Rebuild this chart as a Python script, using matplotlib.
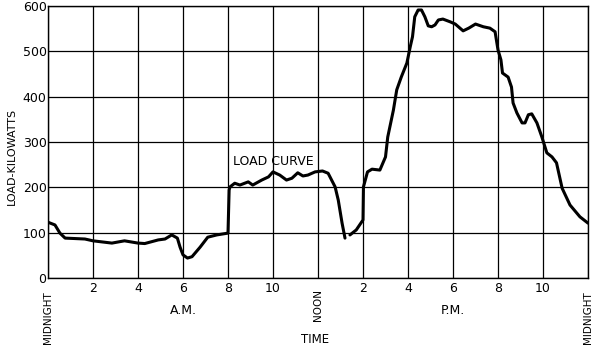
import numpy as np
import matplotlib
matplotlib.use("Agg")
import matplotlib.pyplot as plt

# Load curve (hours after midnight, kilowatts); NaN marks the small break in the trace
hours = [0.0, 0.31, 0.53, 0.76, 1.64, 2.0, 2.84, 3.4, 4.0, 4.3, 4.9, 5.2, 5.5, 5.75, 5.87, 6.0,
         6.2, 6.4, 6.76, 7.1, 7.5, 8.0, 8.05, 8.09, 8.3, 8.53, 8.9, 9.1, 9.5, 9.8, 10.0, 10.3,
         10.6, 10.84, 11.1, 11.33, 11.55, 11.87, 12.2, 12.45, 12.76, 12.9, 13.07, 13.2, 13.3,
         13.42, 13.7, 14.0, 14.02, 14.2, 14.4, 14.75, 15.0, 15.1, 15.35, 15.5, 15.7, 15.95,
         16.1, 16.2, 16.3, 16.45, 16.6, 16.75, 16.9, 17.05, 17.2, 17.35, 17.55, 17.87, 18.1,
         18.45, 18.7, 19.0, 19.35, 19.64, 19.87, 20.0, 20.13, 20.2, 20.45, 20.6, 20.67, 20.84,
         21.07, 21.2, 21.35, 21.5, 21.73, 21.95, 22.17, 22.4, 22.6, 22.85, 23.2, 23.64, 24.0]
load_kw = [123, 117, 99, 88, 86, 82, 77, 82, 77, 76, 84, 86, 95, 88, 68, 51,
           44, 47, 68, 90, 95, 99, 194, 201, 209, 205, 212, 205, 216, 223, 234, 227,
           216, 220, 232, 225, 227, 234, 236, 231, 201, 172, 121, 88, np.nan,
           95, 106, 128, 201, 234, 240, 238, 267, 311, 370, 415, 443, 474,
           510, 532, 576, 591, 591, 576, 556, 554, 558, 569, 571, 565, 560,
           545, 551, 560, 554, 551, 543, 503, 481, 452, 443, 421, 386, 364,
           342, 342, 360, 362, 342, 311, 276, 267, 254, 198, 161, 135, 121]

x_ticks = [2, 4, 6, 8, 10, 14, 16, 18, 20, 22]
x_tick_labels = ["2", "4", "6", "8", "10", "2", "4", "6", "8", "10"]
x_grid = [0, 2, 4, 6, 8, 10, 12, 14, 16, 18, 20, 22, 24]
y_ticks = [0, 100, 200, 300, 400, 500, 600]

fig = plt.figure(figsize=(6.0, 3.52), dpi=100)
ax = fig.add_axes([0.08, 0.2102, 0.90, 0.773])

ax.plot(hours, load_kw, color="black", lw=2.2, solid_capstyle="round", solid_joinstyle="round", zorder=3)

ax.set_xlim(0, 24)
ax.set_ylim(0, 600)
ax.set_xticks(x_ticks)
ax.set_xticklabels(x_tick_labels)
ax.set_yticks(y_ticks)
for h in x_grid:
    ax.axvline(h, color="black", lw=0.9, zorder=1)
ax.grid(True, which="major", axis="y", color="black", lw=0.9)
ax.tick_params(axis="both", which="both", length=0, labelsize=9)
ax.tick_params(axis="x", pad=3)
ax.tick_params(axis="y", pad=1)
for s in ax.spines.values():
    s.set_linewidth(1.0)

ax.text(10.0, 258, "LOAD CURVE", ha="center", va="center", fontsize=9)

tr = ax.get_xaxis_transform()
ax.text(6.0, -0.12, "A.M.", transform=tr, ha="center", va="center", fontsize=9)
ax.text(18.0, -0.12, "P.M.", transform=tr, ha="center", va="center", fontsize=9)
ax.text(0.0, -0.05, "MIDNIGHT", transform=tr, ha="center", va="top", rotation=90, fontsize=7.5)
ax.text(12.0, -0.04, "NOON", transform=tr, ha="center", va="top", rotation=90, fontsize=7.5)
ax.text(24.0, -0.05, "MIDNIGHT", transform=tr, ha="center", va="top", rotation=90, fontsize=7.5)
ax.text(11.85, -0.225, "TIME", transform=tr, ha="center", va="center", fontsize=8.5)

fig.text(0.02, 0.555, "LOAD-KILOWATTS", rotation=90, ha="center", va="center", fontsize=8)

fig.savefig("out.png", dpi=100, facecolor="white")
